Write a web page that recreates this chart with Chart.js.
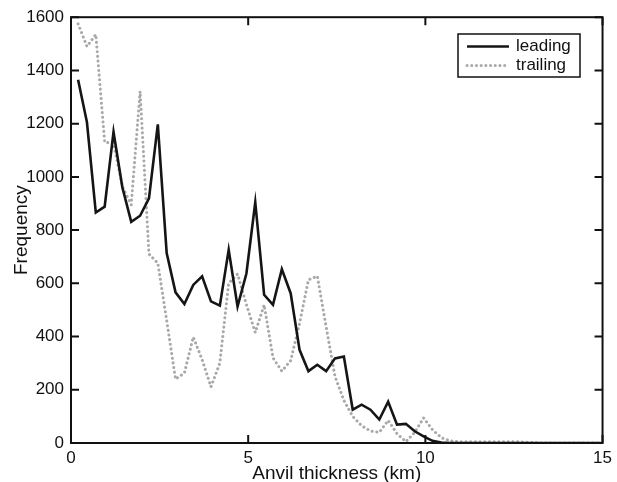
<!DOCTYPE html>
<html>
<head>
<meta charset="utf-8">
<script src="https://cdn.jsdelivr.net/npm/chart.js@4"></script>
<style>
  html, body { margin: 0; padding: 0; background: #fff; }
  #wrap { width: 617px; height: 482px; }
</style>
</head>
<body>
<div id="wrap"><canvas id="chart" width="617" height="482"></canvas></div>
<script>
// bin centres (km)
const thickness = [];
for (let k = 0; k < 60; k++) thickness.push(+(0.2 + 0.25 * k).toFixed(2));

const leading = [1365, 1205, 866, 888, 1169, 960, 831, 854, 919, 1197,
                 714, 566, 522, 594, 626, 532, 516, 726, 513, 637,
                 904, 557, 519, 653, 562, 350, 270, 294, 270, 318,
                 325, 125, 144, 125, 88, 155, 69, 72, 44, 25,
                 8, 2, 0, 0, 0, 0, 0, 0, 0, 0,
                 0, 0, 0, 0, 0, 0, 0, 0, 0, 0];

const trailing = [1575, 1490, 1535, 1130, 1127, 964, 895, 1321, 710, 676,
                  460, 240, 263, 398, 313, 211, 300, 600, 635, 520,
                  415, 519, 320, 270, 310, 450, 613, 627, 437, 250,
                  160, 100, 65, 45, 40, 85, 35, 5, 40, 94,
                  50, 20, 8, 5, 5, 5, 5, 5, 5, 5,
                  4, 2, 0, 0, 0, 0, 0, 0, 0, 0];

const xTicks = [0, 5, 10, 15];
const yTicks = [0, 200, 400, 600, 800, 1000, 1200, 1400, 1600];
const seriesNames = ['leading', 'trailing'];

const FONT = '"Liberation Sans", Arial, sans-serif';

// frame, inward ticks and legend box
const decorations = {
  id: 'decorations',
  afterDraw(chart) {
    const ctx = chart.ctx;
    const a = chart.chartArea;
    const xs = chart.scales.x, ys = chart.scales.y;
    ctx.save();
    ctx.strokeStyle = '#111';
    ctx.lineWidth = 2;
    ctx.strokeRect(a.left, a.top, a.right - a.left, a.bottom - a.top);
    const len = 8;
    ctx.beginPath();
    xTicks.forEach(v => {
      const px = xs.getPixelForValue(v);
      ctx.moveTo(px, a.bottom); ctx.lineTo(px, a.bottom - len);
      ctx.moveTo(px, a.top); ctx.lineTo(px, a.top + len);
    });
    yTicks.forEach(v => {
      const py = ys.getPixelForValue(v);
      ctx.moveTo(a.left, py); ctx.lineTo(a.left + len, py);
      ctx.moveTo(a.right, py); ctx.lineTo(a.right - len, py);
    });
    ctx.stroke();

    // legend
    const bx = 458, by = 34, bw = 122, bh = 43;
    ctx.fillStyle = '#fff';
    ctx.fillRect(bx, by, bw, bh);
    ctx.lineWidth = 1.5;
    ctx.strokeStyle = '#111';
    ctx.strokeRect(bx, by, bw, bh);
    ctx.font = '17px ' + FONT;
    ctx.textBaseline = 'middle';
    ctx.fillStyle = '#111';
    chart.data.datasets.forEach((ds, i) => {
      const y = by + 12.5 + i * 19;
      ctx.beginPath();
      ctx.strokeStyle = ds.borderColor;
      ctx.lineWidth = ds.borderWidth;
      ctx.lineCap = ds.borderCapStyle || 'butt';
      ctx.setLineDash(ds.borderDash || []);
      ctx.moveTo(467, y); ctx.lineTo(509, y);
      ctx.stroke();
      ctx.setLineDash([]);
      ctx.fillText(ds.label, 516, y);
    });
    ctx.restore();
  }
};

new Chart(document.getElementById('chart'), {
  type: 'line',
  data: {
    labels: thickness,
    datasets: [
      {
        label: seriesNames[0],
        data: thickness.map((x, i) => ({ x, y: leading[i] })),
        borderColor: '#151515',
        borderWidth: 2.6,
        pointRadius: 0,
        tension: 0,
        order: 1
      },
      {
        label: seriesNames[1],
        data: thickness.map((x, i) => ({ x, y: trailing[i] })),
        borderColor: '#a9a9a9',
        borderWidth: 3,
        borderDash: [0.1, 4.6],
        borderCapStyle: 'round',
        pointRadius: 0,
        tension: 0,
        order: 2
      }
    ]
  },
  options: {
    responsive: false,
    animation: false,
    layout: { padding: { top: 17, right: 6, left: 0, bottom: 0 } },
    plugins: { legend: { display: false }, tooltip: { enabled: false } },
    scales: {
      x: {
        type: 'linear',
        min: 0, max: 15,
        afterBuildTicks: s => { s.ticks = xTicks.map(v => ({ value: v })); },
        afterFit: s => { s.height = 39; },
        grid: { display: false, drawTicks: false },
        border: { display: false },
        ticks: { color: '#111', padding: 5, font: { family: FONT, size: 17 },
                 callback: v => String(v) },
        title: { display: true, text: 'Anvil thickness (km)', color: '#111',
                 padding: { top: -3, bottom: -3 }, font: { family: FONT, size: 19 } }
      },
      y: {
        min: 0, max: 1600,
        afterBuildTicks: s => { s.ticks = yTicks.map(v => ({ value: v })); },
        afterFit: s => { s.width = 71; },
        grid: { display: false, drawTicks: false },
        border: { display: false },
        ticks: { color: '#111', padding: 7, font: { family: FONT, size: 17 },
                 callback: v => String(v) },
        title: { display: true, text: 'Frequency', color: '#111',
                 padding: { top: 10, bottom: 0 }, font: { family: FONT, size: 19 } }
      }
    }
  },
  plugins: [decorations]
});
</script>
</body>
</html>
